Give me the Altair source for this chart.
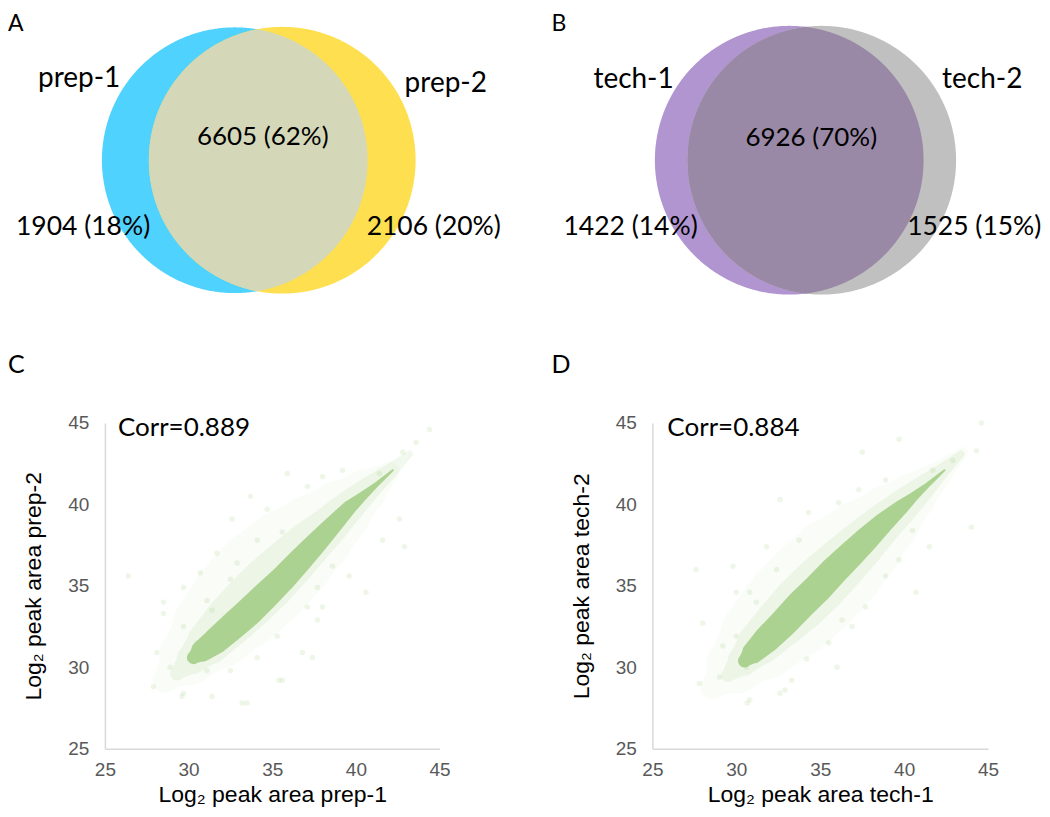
import altair as alt
import numpy as np
import pandas as pd

# ---------------- data ----------------
A_SETS = ["prep-1", "prep-2"]
A_ONLY = [1904, 2106]
A_ONLY_PCT = [18, 20]
A_SHARED = 6605
A_SHARED_PCT = 62

B_SETS = ["tech-1", "tech-2"]
B_ONLY = [1422, 1525]
B_ONLY_PCT = [14, 15]
B_SHARED = 6926
B_SHARED_PCT = 70

CORR = [0.889, 0.884]
AXIS_TICKS = [25, 30, 35, 40, 45]

# panel C (prep-1 vs prep-2): dense core band, halo bands, sparse points
C_CORE_X = [30.3, 30.8, 31.6, 32.6, 33.6, 34.6, 35.6, 36.6, 37.6, 38.6, 39.6, 40.4, 41.2, 42.2]
C_CORE_Y = [30.6, 31.0, 31.6, 32.5, 33.4, 34.4, 35.4, 36.5, 37.6, 38.7, 39.8, 40.5, 41.2, 42.1]
C_CORE_W = [0.8, 1.3, 1.55, 1.65, 1.7, 1.65, 1.55, 1.45, 1.3, 1.1, 0.85, 0.55, 0.3, 0.12]
C_MID_X = [29.3, 30.2, 31.2, 32.4, 33.6, 34.8, 36.0, 37.2, 38.4, 39.6, 40.8, 42.0, 43.2]
C_MID_Y = [29.6, 30.5, 31.5, 32.8, 34.0, 35.2, 36.4, 37.6, 38.7, 39.9, 41.0, 42.0, 43.1]
C_MID_W = [0.8, 1.8, 2.6, 3.0, 3.2, 3.2, 3.0, 2.7, 2.3, 1.9, 1.4, 0.9, 0.4]
C_HALO_X = [28.6, 30.0, 31.5, 33.0, 34.5, 36.0, 37.5, 39.0, 40.5, 42.0]
C_HALO_Y = [29.2, 30.7, 32.4, 34.0, 35.5, 36.9, 38.2, 39.5, 40.8, 42.0]
C_HALO_W = [1.5, 3.5, 5.0, 5.8, 6.0, 5.6, 4.8, 3.8, 2.6, 1.2]
C_PTS_X = [43.6, 42.8, 41.4, 39.2, 38.0, 35.9, 37.1, 33.7, 34.7, 32.6, 35.6, 34.1, 31.7, 30.7,
           32.9, 29.7, 31.1, 28.5, 42.6, 41.6, 40.6, 39.6, 38.6, 38.0, 37.7, 37.1, 28.5, 29.7,
           28.1, 27.9, 29.7, 31.4, 33.5, 35.6, 36.8, 34.1, 35.3, 37.7, 32.5, 31.1, 28.9, 30.5,
           31.4, 32.5, 26.4, 33.2, 29.6, 35.4, 37.4, 42.9, 44.4]
C_PTS_Y = [43.8, 43.2, 41.9, 42.1, 41.7, 41.9, 41.1, 40.5, 39.7, 39.1, 38.3, 37.8, 37.0, 35.8,
           36.4, 34.9, 34.1, 33.3, 39.1, 37.8, 34.6, 35.6, 36.2, 33.7, 34.9, 33.7, 34.0, 32.5,
           30.9, 28.8, 28.4, 28.2, 27.8, 29.2, 30.9, 30.6, 31.9, 32.9, 29.8, 29.8, 30.0, 31.5,
           33.5, 35.4, 35.6, 27.8, 28.2, 29.2, 30.6, 37.4, 44.6]

# panel D (tech-1 vs tech-2)
D_CORE_X = [30.5, 31.0, 31.8, 32.8, 33.8, 34.8, 35.8, 36.8, 37.8, 38.8, 39.8, 40.6, 41.4, 42.4]
D_CORE_Y = [30.4, 30.9, 31.7, 32.7, 33.8, 34.8, 35.9, 36.9, 37.9, 38.9, 39.8, 40.5, 41.2, 42.1]
D_CORE_W = [0.8, 1.3, 1.6, 1.7, 1.75, 1.75, 1.7, 1.6, 1.45, 1.2, 0.9, 0.55, 0.3, 0.12]
D_MID_X = [29.5, 30.4, 31.4, 32.6, 33.8, 35.0, 36.2, 37.4, 38.6, 39.8, 41.0, 42.2, 43.4]
D_MID_Y = [29.5, 30.4, 31.5, 32.7, 33.9, 35.1, 36.3, 37.5, 38.7, 39.8, 40.9, 42.0, 43.1]
D_MID_W = [0.8, 1.8, 2.6, 3.0, 3.3, 3.3, 3.1, 2.8, 2.4, 2.0, 1.5, 0.9, 0.4]
D_HALO_X = [28.6, 30.0, 31.5, 33.0, 34.5, 36.0, 37.5, 39.0, 40.5, 42.0, 43.5]
D_HALO_Y = [28.8, 30.2, 31.8, 33.3, 34.8, 36.3, 37.7, 39.1, 40.5, 41.8, 43.2]
D_HALO_W = [1.5, 3.5, 5.0, 5.8, 6.0, 5.8, 5.0, 4.0, 2.8, 1.6, 0.6]
D_PTS_X = [44.3, 42.9, 41.7, 39.7, 37.5, 32.6, 34.3, 36.1, 37.3, 38.9, 40.5, 41.5, 39.7, 38.9,
           40.7, 44.0, 33.75, 31.8, 32.4, 30.8, 29.8, 37.7, 36.3, 27.6, 28.0, 29.2, 27.8, 29.0,
           30.8, 32.6, 34.2, 35.5, 36.9, 36.0, 33.3, 30.6, 30.0, 31.2, 30.0, 30.65, 32.9, 44.6]
D_PTS_Y = [43.3, 42.7, 42.1, 44.0, 43.2, 40.3, 39.5, 40.1, 40.9, 41.5, 38.4, 37.4, 36.6, 35.6,
           34.6, 38.6, 37.8, 37.4, 36.0, 34.6, 36.2, 33.7, 32.9, 36.0, 32.7, 31.3, 29.0, 29.4,
           28.0, 28.4, 30.5, 31.5, 32.5, 30.0, 29.2, 30.0, 31.9, 34.0, 34.6, 27.8, 28.6, 45.0]

# ---------------- style ----------------
GREEN = "#A9D18E"
TXT_FONT = "Lato"
AX_FONT = "Liberation Sans"
TOP_PAD = 5


def circle_df(cx, cy, r, n=361):
    t = np.linspace(0, np.pi, n)
    h = r * np.sin(t)
    return pd.DataFrame({"x": cx - r * np.cos(t), "y1": cy - h, "y2": cy + h})


def lens_df(c1, c2, r1, r2, cy, n=501):
    x = np.linspace(c2 - r2, c1 + r1, n)
    h1 = np.sqrt(np.clip(r1 ** 2 - (x - c1) ** 2, 0, None))
    h2 = np.sqrt(np.clip(r2 ** 2 - (x - c2) ** 2, 0, None))
    h = np.minimum(h1, h2)
    return pd.DataFrame({"x": x, "y1": cy - h, "y2": cy + h})


def text_layer(label, x, y, size, align="left", baseline="alphabetic", font=TXT_FONT):
    return alt.Chart(pd.DataFrame({"t": [label]})).mark_text(
        align=align, baseline=baseline, font=font, fontSize=size, color="#000000"
    ).encode(x=alt.value(x), y=alt.value(y), text="t:N")


def venn(W, H, sets, only, only_pct, shared, shared_pct, c1, c2, r1, r2, cy,
         col1, col2, col_lens, letter, letter_x, lower_letter, pos):
    xs = alt.Scale(domain=[0, W], nice=False, zero=False)
    ys = alt.Scale(domain=[0, H], reverse=True, nice=False, zero=False)
    d = -TOP_PAD

    def area(df, color):
        return alt.Chart(df).mark_area(color=color, opacity=1, orient="vertical").encode(
            x=alt.X("x:Q", scale=xs, axis=None),
            y=alt.Y("y1:Q", scale=ys, axis=None),
            y2="y2:Q",
        )

    layers = [
        area(circle_df(c1, cy + d, r1), col1),
        area(circle_df(c2, cy + d, r2), col2),
        area(lens_df(c1, c2, r1, r2, cy + d), col_lens),
        text_layer(letter, letter_x, 0, 23, baseline="top"),
        text_layer(lower_letter, letter_x, 365 + d, 25),
        text_layer(sets[0], pos["s1"][0], pos["s1"][1] + d, 28),
        text_layer(sets[1], pos["s2"][0], pos["s2"][1] + d, 28),
        text_layer(f"{shared} ({shared_pct}%)", pos["sh"][0], pos["sh"][1] + d, 26, align="center"),
        text_layer(f"{only[0]} ({only_pct[0]}%)", pos["o1"][0], pos["o1"][1] + d, 26.5),
        text_layer(f"{only[1]} ({only_pct[1]}%)", pos["o2"][0], pos["o2"][1] + d, 26.5),
    ]
    return alt.layer(*layers).properties(width=W, height=H)


def trail(xv, yv, wv, opacity, wscale, xs, ys):
    df = pd.DataFrame({"x": xv, "y": yv, "w": wv})
    return alt.Chart(df).mark_trail(color=GREEN, opacity=opacity).encode(
        x=alt.X("x:Q", scale=xs), y=alt.Y("y:Q", scale=ys),
        size=alt.Size("w:Q", scale=wscale, legend=None),
    )


def scatter(W, H, core, mid, halo, pts, xtitle, ytitle, corr, corr_x):
    xs = alt.Scale(domain=[25, 45], nice=False, zero=False)
    ys = alt.Scale(domain=[25, 45], nice=False, zero=False)
    wscale = alt.Scale(domain=[0, 6], range=[0, 6 * W / 20.0])
    axis_common = dict(
        values=AXIS_TICKS, grid=False, ticks=False, tickSize=0,
        domainColor="#D9D9D9", domainWidth=1.5,
        labelColor="#595959", labelFont=AX_FONT, labelFontSize=19,
        labelFlush=False, labelOverlap=False,
        titleFont=AX_FONT, titleFontSize=23, titleFontWeight="normal", titleColor="#000000",
    )
    xaxis = alt.Axis(title=xtitle, labelPadding=12, titlePadding=4, **axis_common)
    yaxis = alt.Axis(title=ytitle, labelPadding=16, titlePadding=22, **axis_common)

    pdf = pd.DataFrame({"x": pts[0], "y": pts[1]})
    base_pts = alt.Chart(pdf).mark_circle(color=GREEN, opacity=0.2, size=30).encode(
        x=alt.X("x:Q", scale=xs, axis=xaxis), y=alt.Y("y:Q", scale=ys, axis=yaxis)
    )
    layers = [
        base_pts,
        trail(*halo, 0.07, wscale, xs, ys),
        trail(*mid, 0.16, wscale, xs, ys),
        trail(*core, 0.97, wscale, xs, ys),
        text_layer(f"Corr={corr}", corr_x, 5, 26, baseline="middle"),
    ]
    return alt.layer(*layers).properties(width=W, height=H)


panel_a = venn(
    335, 400, A_SETS, A_ONLY, A_ONLY_PCT, A_SHARED, A_SHARED_PCT,
    c1=130, c2=177.5, r1=133, r2=133.5, cy=152,
    col1="#4FD2FE", col2="#FEDF50", col_lens="#D4D8B8",
    letter="A", letter_x=-97, lower_letter="C",
    pos={"s1": (-67, 79), "s2": (300, 84), "sh": (158, 137), "o1": (-89, 227), "o2": (262, 227)},
)
panel_b = venn(
    336, 400, B_SETS, B_ONLY, B_ONLY_PCT, B_SHARED, B_SHARED_PCT,
    c1=137, c2=169.5, r1=134.5, r2=134.5, cy=152,
    col1="#B195D0", col2="#C0C0C0", col_lens="#9A89A6",
    letter="B", letter_x=-101, lower_letter="D",
    pos={"s1": (-59, 80), "s2": (290, 80), "sh": (159, 138), "o1": (-89, 227), "o2": (255, 227)},
)
panel_c = scatter(
    335, 326,
    (C_CORE_X, C_CORE_Y, C_CORE_W), (C_MID_X, C_MID_Y, C_MID_W), (C_HALO_X, C_HALO_Y, C_HALO_W),
    (C_PTS_X, C_PTS_Y),
    "Log₂ peak area prep-1", "Log₂ peak area prep-2", CORR[0], 13,
)
panel_d = scatter(
    336, 326,
    (D_CORE_X, D_CORE_Y, D_CORE_W), (D_MID_X, D_MID_Y, D_MID_W), (D_HALO_X, D_HALO_Y, D_HALO_W),
    (D_PTS_X, D_PTS_Y),
    "Log₂ peak area tech-1", "Log₂ peak area tech-2", CORR[1], 15,
)

chart = alt.concat(
    panel_a, panel_b, panel_c, panel_d, columns=2,
    spacing={"row": 15 - TOP_PAD, "column": 213},
).properties(
    bounds="flush",
    padding={"top": TOP_PAD, "left": 0, "right": 0, "bottom": 0},
    background="white",
).resolve_scale(
    x="independent", y="independent", size="independent"
).configure_view(stroke=None)

chart.save("out.html", embed_options={"renderer": "svg", "actions": False})
